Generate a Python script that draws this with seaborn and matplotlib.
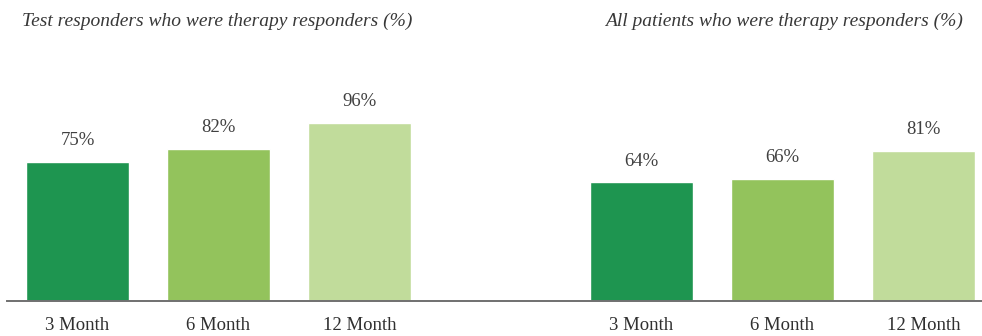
import matplotlib
matplotlib.use("Agg")
import matplotlib.pyplot as plt
import seaborn as sns
import pandas as pd

periods = ["3 Month", "6 Month", "12 Month"]
test_responders = [75, 82, 96]
all_patients = [64, 66, 81]
colors = ["#1e9550", "#93c35c", "#c1dc9b"]
titles = ["Test responders who were therapy responders (%)",
          "All patients who were therapy responders (%)"]

sns.set_theme(style="white")
plt.rcParams['font.family'] = ['Liberation Serif', 'DejaVu Serif']

positions = [0, 1, 2, 4, 5, 6]
values = test_responders + all_patients
labels = periods + periods
df = pd.DataFrame({"pos": positions, "val": values,
                   "grp": [f"g{i}" for i in range(6)]})
palette = {f"g{i}": colors[i % 3] for i in range(6)}

fig = plt.figure(figsize=(9.82, 3.36), dpi=100)
ax = fig.add_axes([7/982, 35/336, 975/982, 241/336])
sns.barplot(data=df, x="pos", y="val", hue="grp", palette=palette,
            native_scale=True, width=0.73, dodge=False, legend=False,
            saturation=1, ax=ax)
ax.set_xlim(-0.5, 6.415)
ax.set_ylim(0, 129.9)
for p, v in zip(positions, values):
    ax.text(p, v + 11.3, f"{v}%", ha="center", va="center",
            fontsize=13.5, color="#404040")
ax.set_xticks(positions)
ax.set_xticklabels(labels, fontsize=13.5, color="#303030")
ax.tick_params(axis="x", length=0, pad=11.5)
ax.set_yticks([])
ax.set_xlabel("")
ax.set_ylabel("")
for s in ["top", "right", "left"]:
    ax.spines[s].set_visible(False)
ax.spines["bottom"].set_color("#707070")
ax.spines["bottom"].set_linewidth(1.4)

fig.text(22/982, 1 - 21/336, titles[0], ha="left", va="center",
         style="italic", fontsize=14, color="#383838")
fig.text(963/982, 1 - 21/336, titles[1], ha="right", va="center",
         style="italic", fontsize=14, color="#383838")

fig.savefig("out.png", dpi=100)
